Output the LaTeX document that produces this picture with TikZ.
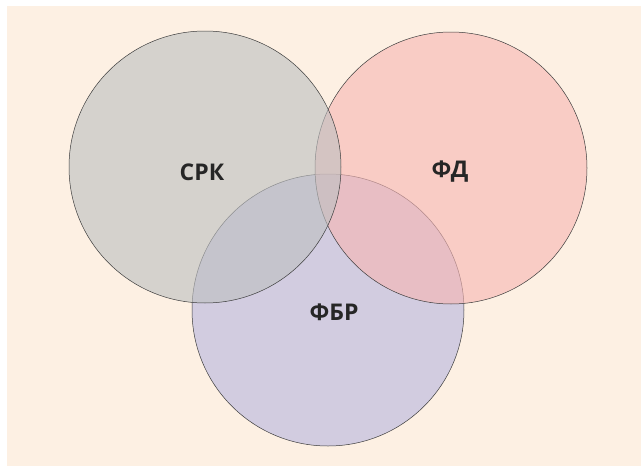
\documentclass[tikz,border=0pt]{standalone}
\usepackage{fontspec}
\setmainfont{Open Sans}
\usepackage{tikz}
\usetikzlibrary{positioning}
\usepackage{xcolor}

\definecolor{paper}{RGB}{253,240,227}
\definecolor{srkfill}{RGB}{190,192,193}
\definecolor{fdfill}{RGB}{247,182,180}
\definecolor{fbrfill}{RGB}{169,170,223}
\definecolor{rim}{RGB}{60,60,60}

\tikzset{
  setcircle/.style={circle, draw=rim, line width=0.5pt, fill=#1, fill opacity=0.62,
    minimum size=272pt, inner sep=0pt},
  setlabel/.style={font=\bfseries\fontsize{23}{26}\selectfont, text=black!85}
}

\begin{document}
\begin{tikzpicture}[x=1pt, y=-1pt]
    \useasboundingbox (0,0) rectangle (641,466);
    \fill[paper] (7,6) rectangle (641,466);
    % three overlapping sets, bottom one first
    \node[setcircle=fbrfill, fill opacity=0.5] (fbr) at (328,310) {};
    \node[setcircle=fdfill]  (fd)  at (451,168) {};
    \node[setcircle=srkfill] (srk) at (205,167) {};
    \node[setlabel] (srklabel) at (202,172) {СРК};
    \node[setlabel] (fdlabel)  at (450,172) {ФД};
    \node[setlabel] (fbrlabel) at (334,312) {ФБР};
  \end{tikzpicture}
\end{document}
